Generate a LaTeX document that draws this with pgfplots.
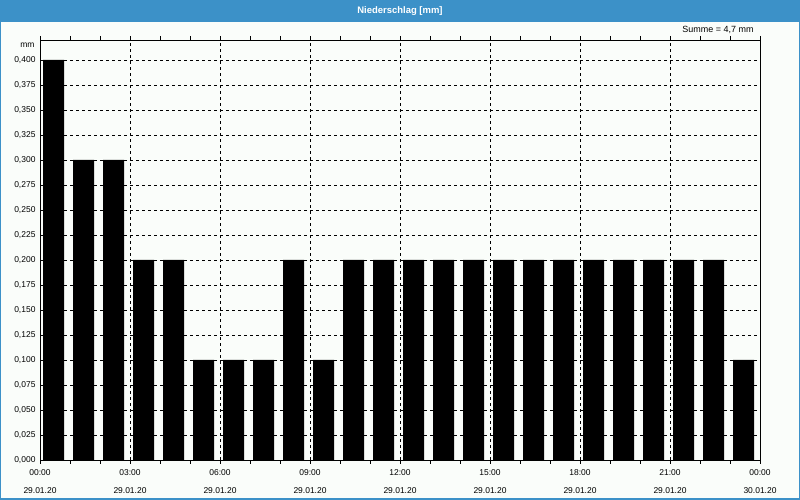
\documentclass[border=0pt]{standalone}
\usepackage{pgfplots}
\pgfplotsset{compat=1.18}
\usepackage{fontspec}
\setmainfont{Liberation Sans}
\definecolor{titleblue}{HTML}{3C91C8}
\definecolor{bgcol}{HTML}{FAFDFA}
\begin{document}
\begin{tikzpicture}[x=1bp,y=1bp]
\fill[bgcol] (0,0) rectangle (800,500);
\fill[titleblue] (0,478) rectangle (800,500);
\draw[titleblue, line width=1.5bp] (0.75,0.75) rectangle (799.25,499.25);
\node[white, font=\bfseries\fontsize{9.5}{11}\selectfont] at (400,489) {Niederschlag [mm]};
\node[anchor=east, font=\fontsize{9}{10}\selectfont] at (757,470) {Summe = 4,7 mm};
\node[anchor=east, font=\fontsize{8.5}{10}\selectfont] at (38,455) {mm};
\begin{axis}[
  at={(40bp,40bp)}, anchor=south west,
  scale only axis, width=720bp, height=420bp,
  xmin=0, xmax=24, ymin=0, ymax=0.42,
  axis line style={black, line width=0.8bp},
  xtick={0,3,6,9,12,15,18,21,24},
  minor xtick={1,2,4,5,7,8,10,11,13,14,16,17,19,20,22,23},
  xticklabels={00:00\\29.01.20, 03:00\\29.01.20, 06:00\\29.01.20, 09:00\\29.01.20, 12:00\\29.01.20, 15:00\\29.01.20, 18:00\\29.01.20, 21:00\\29.01.20, 00:00\\30.01.20},
  xticklabel style={align=center, font=\fontsize{8.5}{18}\selectfont, yshift=-2bp},
  ytick={0,0.025,0.05,0.075,0.1,0.125,0.15,0.175,0.2,0.225,0.25,0.275,0.3,0.325,0.35,0.375,0.4},
  yticklabel style={font=\fontsize{8.5}{10}\selectfont, xshift=3bp},
  /pgf/number format/.cd, fixed, fixed zerofill, precision=3, use comma, assume math mode=true,
  /pgfplots/.cd,
  tick align=outside,
  x tick style={black, line width=0.6bp},
  major x tick style={black},
  y tick style={draw=none},
  major tick length=4bp, minor tick length=4bp,
  grid=major,
  major grid style={black, line width=0.7bp, dash pattern=on 3bp off 3bp},
  ybar, bar width=0.7, bar shift=0pt,
]
\addplot[fill=black, draw=none] coordinates {
(0.45,0.4) (1.45,0.3) (2.45,0.3) (3.45,0.2) (4.45,0.2) (5.45,0.1)
(6.45,0.1) (7.45,0.1) (8.45,0.2) (9.45,0.1) (10.45,0.2) (11.45,0.2)
(12.45,0.2) (13.45,0.2) (14.45,0.2) (15.45,0.2) (16.45,0.2) (17.45,0.2)
(18.45,0.2) (19.45,0.2) (20.45,0.2) (21.45,0.2) (22.45,0.2) (23.45,0.1)
};
\end{axis}
\end{tikzpicture}
\end{document}
